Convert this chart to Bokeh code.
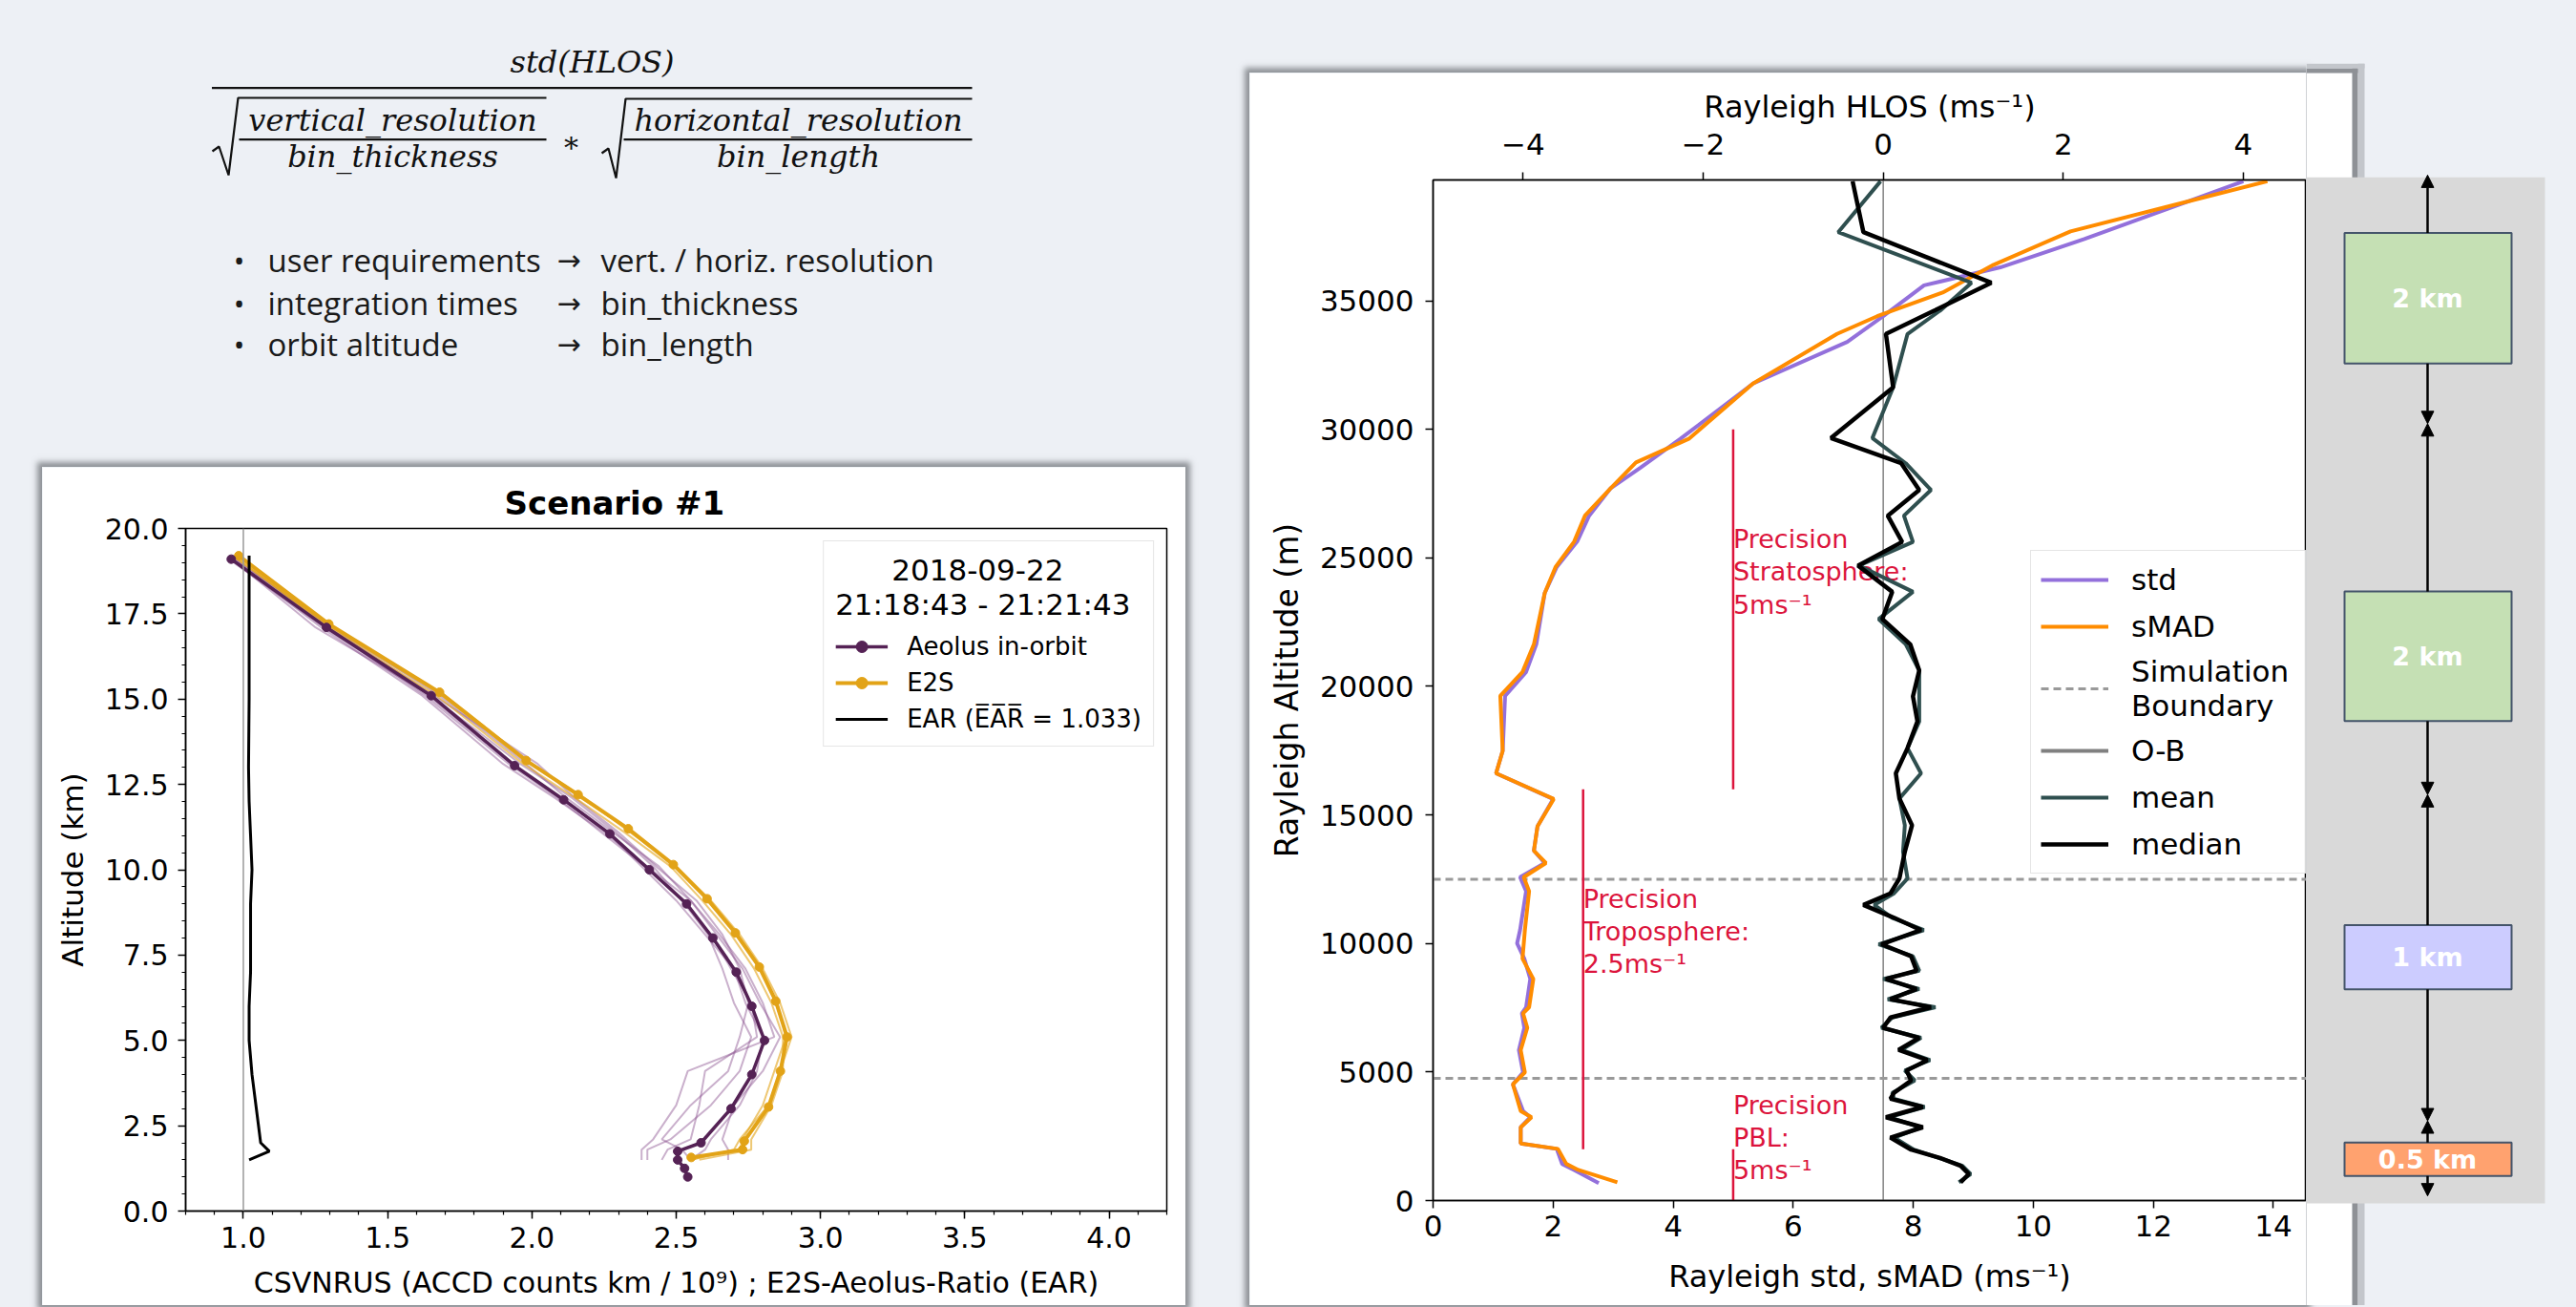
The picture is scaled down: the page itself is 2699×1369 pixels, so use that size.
from bokeh.plotting import figure
from bokeh.models import (ColumnDataSource, Range1d, LinearAxis, Legend, LegendItem, Span,
                          SingleIntervalTicker, PrintfTickFormatter, CustomJSTickFormatter,
                          Arrow, NormalHead)
from bokeh.layouts import row, column
from bokeh.core.properties import value
from bokeh.embed import file_html
from bokeh.resources import INLINE

# ---------------- data: left chart (Scenario #1) ----------------
AEOLUS_ALT = [19.1, 17.1, 15.1, 13.05, 12.05, 11.05, 10.0, 9.0, 8.0, 7.0, 6.0, 5.0, 4.0, 3.0, 2.0, 1.75, 1.5, 1.25, 1.0]
AEOLUS_X = [0.958, 1.288, 1.651, 1.94, 2.11, 2.27, 2.407, 2.536, 2.627, 2.708, 2.762, 2.806, 2.762, 2.69, 2.586, 2.505, 2.505, 2.529, 2.54]
E2S_ALT = [19.2, 17.2, 15.2, 13.2, 12.2, 11.2, 10.15, 9.15, 8.15, 7.15, 6.15, 5.1, 4.1, 3.05, 2.05, 1.8, 1.57]
E2S_X = [0.984, 1.296, 1.68, 1.98, 2.16, 2.334, 2.49, 2.607, 2.705, 2.788, 2.845, 2.884, 2.861, 2.82, 2.736, 2.73, 2.552]
THIN_ALT = [19.1, 17.1, 15.1, 13.1, 12.1, 11.1, 10.1, 9.1, 8.1, 7.1, 6.1, 5.1, 4.1, 3.1, 2.1, 1.8, 1.5]
AEOLUS_SINGLE = [
    [0.96, 1.27, 1.62, 1.90, 2.08, 2.25, 2.40, 2.55, 2.65, 2.74, 2.80, 2.84, 2.54, 2.50, 2.42, 2.38, 2.38],
    [0.97, 1.30, 1.66, 2.02, 2.15, 2.30, 2.43, 2.57, 2.66, 2.72, 2.75, 2.72, 2.68, 2.55, 2.45, 2.52, 2.55],
    [0.95, 1.28, 1.64, 1.93, 2.10, 2.26, 2.38, 2.50, 2.60, 2.70, 2.74, 2.80, 2.78, 2.72, 2.62, 2.60, 2.55],
    [0.96, 1.25, 1.65, 1.96, 2.14, 2.29, 2.42, 2.52, 2.61, 2.66, 2.70, 2.76, 2.72, 2.62, 2.48, 2.40, 2.40],
    [0.97, 1.31, 1.68, 1.98, 2.12, 2.28, 2.44, 2.55, 2.64, 2.73, 2.79, 2.86, 2.80, 2.70, 2.66, 2.68, 2.68],
    [0.96, 1.29, 1.63, 1.92, 2.09, 2.24, 2.39, 2.53, 2.62, 2.69, 2.76, 2.78, 2.60, 2.58, 2.55, 2.47, 2.45],
]
E2S_SINGLE = [
    [0.98, 1.30, 1.69, 2.00, 2.17, 2.35, 2.50, 2.62, 2.72, 2.80, 2.86, 2.90, 2.86, 2.82, 2.72, 2.70, 2.55],
    [0.99, 1.29, 1.67, 1.97, 2.15, 2.32, 2.48, 2.59, 2.69, 2.77, 2.83, 2.87, 2.87, 2.83, 2.76, 2.76, 2.58],
    [0.98, 1.31, 1.70, 2.00, 2.18, 2.34, 2.50, 2.61, 2.71, 2.79, 2.85, 2.88, 2.84, 2.80, 2.73, 2.72, 2.55],
]
EAR_ALT = [19.2, 17, 15, 13, 12, 11, 10, 9, 8, 7, 6, 5, 4, 3, 2, 1.75, 1.5]
EAR_X = [1.02, 1.02, 1.02, 1.018, 1.02, 1.025, 1.03, 1.025, 1.025, 1.025, 1.02, 1.02, 1.03, 1.045, 1.06, 1.09, 1.02]

# ---------------- data: right chart (Rayleigh) ----------------
SMAD_ALT = [39650, 37700, 36400, 35320, 34400, 33710, 31780, 29630, 28710, 27710, 26640, 25630, 24640, 23630,
            21640, 20560, 19630, 17490, 16620, 15620, 14560, 13610, 13130, 12580, 12030, 10530, 9410, 8620,
            7520, 7280, 6720, 5850, 4985, 4520, 3480, 3240, 2850, 2220, 2010, 1425, 1190, 710]
SMAD = [13.9, 10.62, 9.34, 8.49, 7.40, 6.73, 5.33, 4.26, 3.38, 2.96, 2.53, 2.35, 2.04, 1.86,
        1.68, 1.49, 1.12, 1.16, 1.05, 2.01, 1.74, 1.68, 1.88, 1.51, 1.60, 1.53, 1.49, 1.67,
        1.60, 1.50, 1.57, 1.46, 1.53, 1.33, 1.46, 1.64, 1.46, 1.46, 2.08, 2.22, 2.42, 3.07]
STD_ALT = [39650, 37400, 36300, 35600, 34400, 33400, 31780, 29630, 28500, 27710, 26640, 25630, 24640, 23630,
           21640, 20560, 19630, 17490, 16620, 15620, 14560, 13610, 13130, 12580, 12030, 10530, 10000, 9410,
           8620, 7520, 7280, 6720, 5850, 4985, 4520, 3480, 3240, 2850, 2220, 2010, 1425, 1190, 680]
STD = [13.5, 10.85, 9.45, 8.18, 7.5, 6.9, 5.33, 4.12, 3.45, 2.96, 2.6, 2.4, 2.06, 1.86,
       1.72, 1.55, 1.2, 1.16, 1.05, 2.0, 1.74, 1.68, 1.86, 1.45, 1.55, 1.45, 1.40, 1.52,
       1.62, 1.55, 1.48, 1.52, 1.43, 1.50, 1.33, 1.50, 1.62, 1.46, 1.46, 2.06, 2.15, 2.35, 2.76]
MM_ALT = [39650, 37670, 35700, 34640, 33710, 31630, 29660, 28680, 27640, 26640, 25620, 24700, 23680, 22620,
          21640, 20620, 19610, 18640, 17600, 16620, 15640, 14600, 13570, 12530, 11950, 11500, 11000, 10520,
          9970, 9500, 8940, 8620, 8230, 7830, 7520, 7120, 6720, 6330, 5860, 5460, 5060, 4670, 4190, 3960,
          3640, 3240, 2850, 2450, 1980, 1660, 1350, 1030, 710]
MEDIAN = [-0.34, -0.22, 1.20, 0.58, 0.03, 0.11, -0.58, 0.20, 0.40, 0.05, 0.21, -0.28, 0.10, -0.01,
          0.30, 0.40, 0.33, 0.38, 0.27, 0.14, 0.18, 0.32, 0.24, 0.18, 0.08, -0.22, 0.12, 0.42,
          -0.02, 0.31, 0.37, 0.03, 0.37, 0.08, 0.53, 0.08, 0.00, 0.40, 0.17, 0.49, 0.26, 0.31, 0.12, 0.08,
          0.44, 0.03, 0.44, 0.08, 0.31, 0.63, 0.86, 0.95, 0.86]
MEAN = [-0.03, -0.50, 0.98, 0.64, 0.27, 0.11, -0.12, 0.25, 0.53, 0.23, 0.33, -0.27, 0.33, -0.05,
        0.25, 0.40, 0.40, 0.40, 0.27, 0.42, 0.18, 0.24, 0.22, 0.27, 0.12, -0.10, 0.10, 0.45,
        -0.05, 0.33, 0.40, 0.00, 0.40, 0.05, 0.58, 0.10, -0.02, 0.42, 0.20, 0.52, 0.24, 0.35, 0.10, 0.12,
        0.46, 0.06, 0.42, 0.12, 0.34, 0.62, 0.88, 0.97, 0.84]
SIM_BOUNDARY_ALT = [12500, 4750]
PRECISION_X = [5.0, 2.5, 5.0]
PRECISION_BOTTOM = [16000, 2000, 0]
PRECISION_TOP = [30000, 16000, 2000]
PRECISION_TEXT_ALT = [26300, 12300, 4300]
PRECISION_TEXT = ["Precision\nStratosphere:\n5ms\u207b\u00b9", "Precision\nTroposphere:\n2.5ms\u207b\u00b9",
                  "Precision\nPBL:\n5ms\u207b\u00b9"]

# ---------------- data: resolution diagram ----------------
RES_LABELS = ["2 km", "2 km", "1 km", "0.5 km"]
RES_COLORS = ["#c5e0b4", "#c5e0b4", "#ccccff", "#ffa26f"]
RES_BOX_BOTTOM = [32560, 18650, 8220, 957]
RES_BOX_TOP = [37640, 23690, 10710, 2255]
RES_BOUNDS = [39890, 30220, 15790, 3100, 180]

BG = "#edf0f5"
FONT = "DejaVu Sans"
PURPLE = "#552255"
GOLD = "#e2a317"
SHADOW = "0px 0px 6px 5px rgba(125,128,133,0.85)"


def style_axis(ax, tick_size, label_size, tick_standoff, label_standoff):
    ax.axis_line_color = "black"
    ax.axis_line_width = 1.5
    ax.major_tick_line_color = "black"
    ax.major_tick_line_width = 1.5
    ax.major_tick_out = 8
    ax.major_tick_in = 0
    ax.minor_tick_line_color = "black"
    ax.minor_tick_line_width = 1.2
    ax.minor_tick_out = 4
    ax.minor_tick_in = 0
    ax.major_label_text_font = FONT
    ax.major_label_text_font_size = tick_size
    ax.major_label_text_color = "black"
    ax.axis_label_text_font = FONT
    ax.axis_label_text_font_size = label_size
    ax.axis_label_text_font_style = "normal"
    ax.axis_label_text_color = "black"
    ax.major_label_standoff = tick_standoff
    ax.axis_label_standoff = label_standoff


# ================= formula / bullet area =================
FF_W, FF_H = 1309, 489
ff = figure(width=FF_W, height=FF_H, x_range=Range1d(0, FF_W), y_range=Range1d(FF_H, 0),
            x_axis_location=None, y_axis_location=None, min_border=0,
            output_backend="svg", toolbar_location=None,
            background_fill_color=BG, border_fill_color=BG, outline_line_color=None)
ff.grid.visible = False
serif = value("DejaVu Serif")
ink = "#111111"
ff.text(x=[620], y=[64], text=["std(HLOS)"], text_font=serif, text_font_style="italic",
        text_font_size="32px", text_align="center", text_baseline="middle", text_color=ink)
ff.text(x=[411, 411, 836, 836], y=[125, 163, 125, 163],
        text=["vertical_resolution", "bin_thickness", "horizontal_resolution", "bin_length"],
        text_font=serif, text_font_style="italic", text_font_size="32px",
        text_align="center", text_baseline="middle", text_color=ink)
ff.text(x=[598], y=[154], text=["*"], text_font=serif, text_font_size="30px",
        text_align="center", text_baseline="middle", text_color=ink)
ff.segment(x0=[221.5, 250, 653], y0=[91.7, 145.7, 145.7], x1=[1018, 572, 1018], y1=[91.7, 145.7, 145.7],
           line_color=ink, line_width=2.2)
ff.multi_line(xs=[[222, 229, 239, 249, 572], [630, 637, 645, 655, 1018]],
              ys=[[158, 153, 183, 102, 102], [160, 155, 186, 103, 103]],
              line_color=ink, line_width=2.2)
sans = value("Open Sans")
ff.text(x=[250, 250, 250], y=[272, 317, 360], text=["\u2022", "\u2022", "\u2022"], text_font=sans,
        text_font_size="31px", text_align="center", text_baseline="middle", text_color="#1a1a1a")
ff.text(x=[280, 280, 280], y=[272, 317, 360],
        text=["user requirements", "integration times", "orbit altitude"], text_font=sans,
        text_font_size="33px", text_align="left", text_baseline="middle", text_color="#1a1a1a")
ff.text(x=[583, 583, 583], y=[272, 317, 360], text=["\u2192", "\u2192", "\u2192"], text_font=value("DejaVu Sans"),
        text_font_size="30px", text_align="left", text_baseline="middle", text_color="#1a1a1a")
ff.text(x=[629, 629, 629], y=[272, 317, 360],
        text=["vert. / horiz. resolution", "bin_thickness", "bin_length"], text_font=sans,
        text_font_size="33px", text_align="left", text_baseline="middle", text_color="#1a1a1a")

# ================= left chart =================
lp = figure(width=1198, height=878, x_range=Range1d(0.8, 4.2), y_range=Range1d(0, 20),
            output_backend="svg", toolbar_location=None,
            min_border_left=150, min_border_right=20, min_border_top=64, min_border_bottom=99,
            background_fill_color="white", border_fill_color="white",
            outline_line_color="black", outline_line_width=1.5, margin=(0, 0, 0, 44),
            styles={"box-shadow": SHADOW})
lp.grid.visible = False
lp.title.text = "Scenario #1"
lp.title.align = "left"
lp.title.offset = 334
lp.title.text_font = FONT
lp.title.text_font_size = "34px"
lp.title.text_font_style = "bold"
lp.title.text_color = "black"
lp.title.standoff = 14
lp.xaxis.ticker = SingleIntervalTicker(interval=0.5, num_minor_ticks=5)
lp.yaxis.ticker = SingleIntervalTicker(interval=2.5, num_minor_ticks=5)
lp.xaxis.formatter = PrintfTickFormatter(format="%.1f")
lp.yaxis.formatter = PrintfTickFormatter(format="%.1f")
lp.xaxis.axis_label = "CSVNRUS (ACCD counts km / 10\u2079) ; E2S-Aeolus-Ratio (EAR)"
lp.yaxis.axis_label = "Altitude (km)"
style_axis(lp.xaxis[0], "30px", "30px", 8, 16)
style_axis(lp.yaxis[0], "30px", "31px", 10, 13)

lp.add_layout(Span(location=1.0, dimension="height", line_color="#999999", line_width=1.5))
lp.multi_line(xs=AEOLUS_SINGLE, ys=[THIN_ALT] * len(AEOLUS_SINGLE), line_color="#8a4f8e",
              line_alpha=0.45, line_width=2)
lp.multi_line(xs=E2S_SINGLE, ys=[THIN_ALT] * len(E2S_SINGLE), line_color=GOLD,
              line_alpha=0.6, line_width=2)
r_e2s_l = lp.line(E2S_X, E2S_ALT, line_color=GOLD, line_width=4)
r_e2s_m = lp.scatter(E2S_X, E2S_ALT, size=9, color=GOLD)
r_ae_l = lp.line(AEOLUS_X, AEOLUS_ALT, line_color=PURPLE, line_width=3.5)
r_ae_m = lp.scatter(AEOLUS_X, AEOLUS_ALT, size=9, color=PURPLE)
r_ear = lp.line(EAR_X, EAR_ALT, line_color="black", line_width=3)

lleg = Legend(items=[LegendItem(label="Aeolus in-orbit", renderers=[r_ae_l, r_ae_m]),
                     LegendItem(label="E2S", renderers=[r_e2s_l, r_e2s_m]),
                     LegendItem(label="EAR (E\u0305A\u0305R\u0305 = 1.033)", renderers=[r_ear])],
              location="top_right", title="      2018-09-22\n21:18:43 - 21:21:43")
lleg.title_text_font = FONT
lleg.title_text_font_size = "31px"
lleg.title_text_font_style = "normal"
lleg.title_text_color = "black"
lleg.label_text_font = FONT
lleg.label_text_font_size = "26px"
lleg.label_text_color = "black"
lleg.glyph_width = 55
lleg.glyph_height = 30
lleg.label_height = 32
lleg.label_standoff = 20
lleg.spacing = 6
lleg.padding = 12
lleg.margin = 13
lleg.border_line_color = "#cccccc"
lleg.border_line_width = 1.5
lleg.title_standoff = 10
lp.add_layout(lleg)

# ================= right chart =================
XMAX = 14.55
YMAX = 39700
RF_TOP = 76
RF_H = 1291
RF_TOP_BORDER = 112
RF_BOTTOM_BORDER = 110
rp = figure(width=1107, height=RF_H, x_range=Range1d(0, XMAX), y_range=Range1d(0, YMAX),
            output_backend="svg", toolbar_location=None,
            min_border_left=192, min_border_right=0, min_border_top=RF_TOP_BORDER,
            min_border_bottom=RF_BOTTOM_BORDER,
            background_fill_color="white", border_fill_color="white",
            outline_line_color="black", outline_line_width=1.5, margin=(RF_TOP, 0, 0, 0),
            styles={"box-shadow": SHADOW})
rp.grid.visible = False
rp.extra_x_ranges = {"top": Range1d(-5, -5 + XMAX / 1.5)}
top_ax = LinearAxis(x_range_name="top", axis_label="Rayleigh HLOS (ms\u207b\u00b9)",
                    ticker=SingleIntervalTicker(interval=2, num_minor_ticks=0),
                    formatter=CustomJSTickFormatter(code="return (tick < 0 ? '\\u2212' : '') + Math.abs(tick).toString();"))
rp.add_layout(top_ax, "above")
rp.below[0].ticker = SingleIntervalTicker(interval=2, num_minor_ticks=0)
rp.below[0].axis_label = "Rayleigh std, sMAD (ms\u207b\u00b9)"
rp.yaxis.ticker = SingleIntervalTicker(interval=5000, num_minor_ticks=0)
rp.yaxis.axis_label = "Rayleigh Altitude (m)"
style_axis(rp.below[0], "31px", "32px", 7, 20)
style_axis(top_ax, "31px", "32px", 19, 6)
style_axis(rp.yaxis[0], "31px", "33px", 12, 12)

rp.line(x=[0, 0], y=[0, YMAX], x_range_name="top", line_color="#808080", line_width=1.5)
for alt in SIM_BOUNDARY_ALT:
    r_sim = rp.line(x=[0, XMAX], y=[alt, alt], line_color="#999999", line_width=3, line_dash="8 5")
rp.segment(x0=PRECISION_X, y0=PRECISION_BOTTOM, x1=PRECISION_X, y1=PRECISION_TOP,
           line_color="#dc143c", line_width=2.5)
rp.text(x=PRECISION_X, y=PRECISION_TEXT_ALT, text=PRECISION_TEXT, text_color="#dc143c",
        text_font=value(FONT), text_font_size="27px", text_align="left", text_baseline="top",
        text_line_height=1.1)
r_std = rp.line(STD, STD_ALT, line_color="#9370db", line_width=4)
r_smad = rp.line(SMAD, SMAD_ALT, line_color="#ff8c00", line_width=4)
r_ob = rp.line(x=[float("nan")], y=[float("nan")], line_color="#808080", line_width=4)
r_mean = rp.line(MEAN, MM_ALT, x_range_name="top", line_color="#2f4f4f", line_width=4)
r_med = rp.line(MEDIAN, MM_ALT, x_range_name="top", line_color="black", line_width=4.5)

rleg = Legend(items=[LegendItem(label="std", renderers=[r_std]),
                     LegendItem(label="sMAD", renderers=[r_smad]),
                     LegendItem(label="Simulation\nBoundary", renderers=[r_sim]),
                     LegendItem(label="O-B", renderers=[r_ob]),
                     LegendItem(label="mean", renderers=[r_mean]),
                     LegendItem(label="median", renderers=[r_med])],
              location=(626, 342))
rleg.label_text_font = FONT
rleg.label_text_font_size = "31px"
rleg.label_text_color = "black"
rleg.glyph_width = 71
rleg.glyph_height = 30
rleg.label_height = 40
rleg.label_width = 220
rleg.label_standoff = 24
rleg.spacing = 9
rleg.padding = 10
rleg.border_line_color = "#cccccc"
rleg.border_line_width = 1.5
rleg.background_fill_alpha = 0.85
rp.add_layout(rleg)

# ================= resolution diagram (aligned with the right chart altitude) =================
PP_TOP = 66
PP_H = 1301
frame_h = RF_H - RF_TOP_BORDER - RF_BOTTOM_BORDER
mpp = YMAX / frame_h
frame_top_page = RF_TOP + RF_TOP_BORDER
frame_bottom_page = RF_TOP + RF_H - RF_BOTTOM_BORDER
y_end = YMAX + (frame_top_page - PP_TOP) * mpp
y_start = -(PP_TOP + PP_H - frame_bottom_page) * mpp
card_top = YMAX + RF_TOP_BORDER * mpp

pp = figure(width=280, height=PP_H, x_range=Range1d(0, 280), y_range=Range1d(y_start, y_end),
            x_axis_location=None, y_axis_location=None, min_border=0, margin=(PP_TOP, 0, 0, 0),
            output_backend="svg", toolbar_location=None,
            background_fill_color=BG, border_fill_color=BG, outline_line_color=None)
pp.grid.visible = False
# continuation of the white card and its shadow
pp.quad(left=[0, 48, 54, 0, 0], right=[48, 54, 61, 54, 61],
        bottom=[y_start, y_start, y_start, card_top, card_top + 5 * mpp],
        top=[card_top, card_top + 5 * mpp, card_top + 10 * mpp, card_top + 5 * mpp, card_top + 10 * mpp],
        fill_color=["white", "#8e9196", "#c3c6cb", "#8e9196", "#c3c6cb"], line_color=None)
pp.quad(left=[0], right=[250], bottom=[-110], top=[39800], fill_color="#d9d9d9", line_color=None)
box_src = ColumnDataSource(dict(bottom=RES_BOX_BOTTOM, top=RES_BOX_TOP, color=RES_COLORS, label=RES_LABELS,
                                mid=[(a + b) / 2 for a, b in zip(RES_BOX_BOTTOM, RES_BOX_TOP)]))
arr_start, arr_end = [], []
for i in range(len(RES_LABELS)):
    arr_start += [RES_BOX_TOP[i], RES_BOX_BOTTOM[i]]
    arr_end += [RES_BOUNDS[i], RES_BOUNDS[i + 1]]
arr_src = ColumnDataSource(dict(x=[127] * len(arr_start), y0=arr_start, y1=arr_end))
pp.add_layout(Arrow(end=NormalHead(size=13, fill_color="black", line_color="black", line_width=1),
                    x_start="x", y_start="y0", x_end="x", y_end="y1", source=arr_src,
                    line_color="black", line_width=2.5))
pp.quad(left=40, right=215, bottom="bottom", top="top", fill_color="color", source=box_src,
        line_color="#44546a", line_width=2)
pp.text(x=127, y="mid", text="label", source=box_src, text_color="white", text_font=value(FONT),
        text_font_style="bold", text_font_size="27px", text_align="center", text_baseline="middle")

layout = row(column(row(ff), row(lp)), rp, column(pp))

html = file_html(layout, INLINE, title="Aeolus Rayleigh precision")
html = html.replace("<head>", "<head><style>html, body { background: %s; overflow: hidden; }</style>" % BG, 1)
open("out.html", "w").write(html)
